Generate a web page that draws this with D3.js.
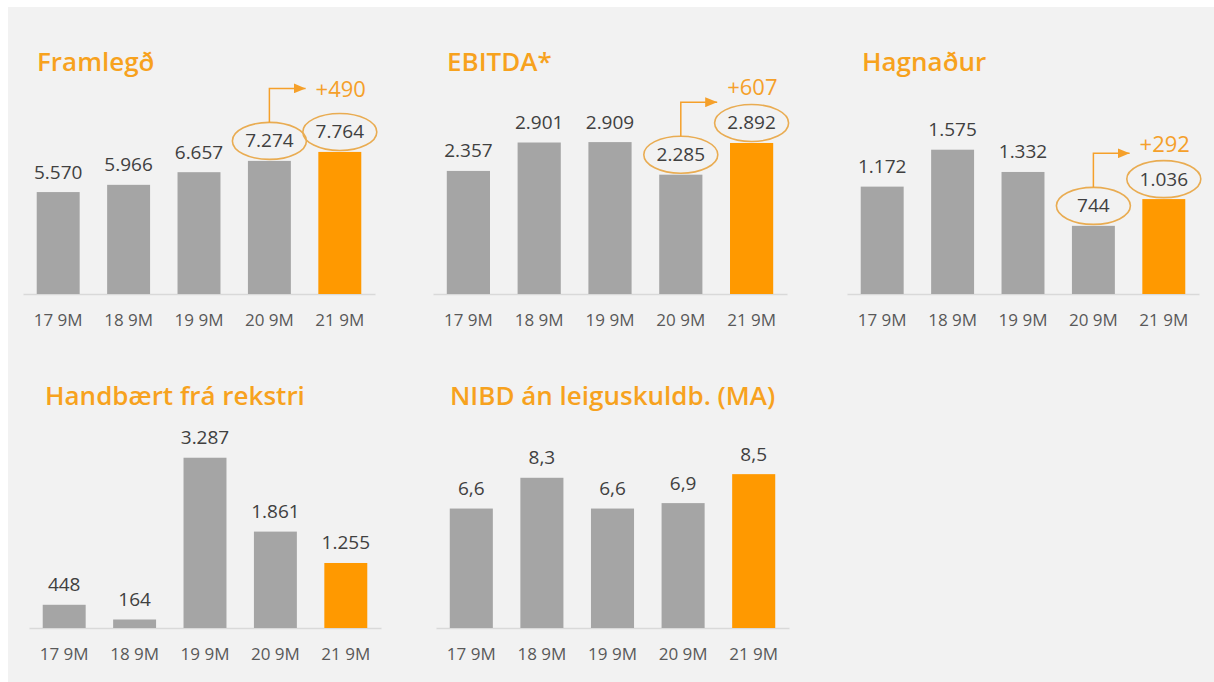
<!DOCTYPE html>
<html><head><meta charset="utf-8">
<script src="https://cdn.jsdelivr.net/npm/d3@7"></script>
<style>
html,body{margin:0;padding:0;background:#fff;}
svg{display:block;}
text{font-family:"Open Sans","Segoe UI",sans-serif;}
</style></head>
<body>
<svg id="chart" width="1214" height="682"></svg>
<script>
// ---- data ----
const categories = ["17 9M", "18 9M", "19 9M", "20 9M", "21 9M"];
const titles = ["Framlegð", "EBITDA*", "Hagnaður", "Handbært frá rekstri", "NIBD án leiguskuldb. (MA)"];
const framlegd = [5570, 5966, 6657, 7274, 7764];
const ebitda = [2357, 2901, 2909, 2285, 2892];
const hagnadur = [1172, 1575, 1332, 744, 1036];
const handbaert = [448, 164, 3287, 1861, 1255];
const nibd = [6.6, 8.3, 6.6, 6.9, 8.5];

const isLocale = d3.formatLocale({decimal: ",", thousands: ".", grouping: [3], currency: ["", ""]});
const fmtInt = isLocale.format(",d");
const fmtDec = isLocale.format(",.1f");
const fmtDelta = isLocale.format("+,d");

// ---- layout / style ----
const panels = [
  {title: titles[0], values: framlegd, fmt: fmtInt, x0: 23, x1: 375, axisY: 294, yMax: 10930, tx: 37, ty: 71, callout: true},
  {title: titles[1], values: ebitda, fmt: fmtInt, x0: 433, x1: 787, axisY: 294, yMax: 3830, tx: 447, ty: 71, callout: true},
  {title: titles[2], values: hagnadur, fmt: fmtInt, x0: 847, x1: 1199, axisY: 294, yMax: 2183, tx: 862, ty: 71, callout: true},
  {title: titles[3], values: handbaert, fmt: fmtInt, x0: 29, x1: 381, axisY: 628, yMax: 3861, tx: 45, ty: 405, callout: false},
  {title: titles[4], values: nibd, fmt: fmtDec, x0: 436, x1: 789, axisY: 628, yMax: 11.05, tx: 450, ty: 405, callout: false}
];
const PLOT_H = 200;
const GRAY = "#a5a5a5", ORANGE = "#ff9900", TITLE = "#f7a21e", RING = "#e9ac52", ARROW = "#f5a02a";

const svg = d3.select("#chart");
svg.append("rect").attr("x", 8).attr("y", 7).attr("width", 1214 - 8).attr("height", 682 - 7).attr("fill", "#f2f2f2");

const defs = svg.append("defs");
defs.append("marker").attr("id", "ah").attr("viewBox", "0 0 12 10").attr("refX", 12).attr("refY", 5)
  .attr("markerWidth", 12).attr("markerHeight", 10).attr("markerUnits", "userSpaceOnUse").attr("orient", "auto")
  .append("path").attr("d", "M0,0L12,5L0,10Z").attr("fill", ARROW);

panels.forEach(p => {
  const g = svg.append("g");
  const x = d3.scaleBand().domain(categories).range([p.x0, p.x1]).paddingInner(0.39).paddingOuter(0.195);
  const y = d3.scaleLinear().domain([0, p.yMax]).range([p.axisY, p.axisY - PLOT_H]);
  const data = categories.map((c, i) => ({c, v: p.values[i], i}));
  const last = data.length - 1;

  g.append("text").attr("x", p.tx).attr("y", p.ty).text(p.title)
    .attr("fill", TITLE).attr("font-size", 26).attr("font-weight", 600);

  // axis
  const ax = g.append("g").attr("transform", `translate(0,${p.axisY})`)
    .call(d3.axisBottom(x).tickSize(0).tickPadding(20));
  ax.select(".domain").attr("stroke", "#d9d9d9").attr("stroke-width", 1.5);
  ax.selectAll("text").attr("font-size", 17).attr("fill", "#595959")
    .attr("font-family", '"Open Sans",sans-serif');

  g.selectAll("rect.bar").data(data).join("rect").attr("class", "bar")
    .attr("x", d => x(d.c)).attr("width", x.bandwidth())
    .attr("y", d => y(d.v)).attr("height", d => y(0) - y(d.v))
    .attr("fill", d => d.i === last ? ORANGE : GRAY);

  g.selectAll("text.val").data(data).join("text").attr("class", "val")
    .attr("x", d => x(d.c) + x.bandwidth() / 2)
    .attr("y", d => y(d.v) - 13.5)
    .attr("text-anchor", "middle").attr("font-size", 19).attr("fill", "#404040")
    .text(d => p.fmt(d.v));

  if (p.callout) {
    const ring = data.slice(last - 1);
    const cy = d => y(d.v) - 20;
    g.selectAll("ellipse").data(ring).join("ellipse")
      .attr("cx", d => x(d.c) + x.bandwidth() / 2).attr("cy", cy)
      .attr("rx", 37).attr("ry", 18.5)
      .attr("fill", "none").attr("stroke", RING).attr("stroke-width", 1.6);
    const a = ring[0], b = ring[1];
    const ax0 = x(a.c) + x.bandwidth() / 2;
    const aTop = cy(a) - 18.5;
    const cornerY = aTop - 34;
    const tipX = ax0 + x.step() / 2 + 1;
    g.append("path").attr("d", `M${ax0},${aTop}V${cornerY}H${tipX}`)
      .attr("fill", "none").attr("stroke", ARROW).attr("stroke-width", 1.5)
      .attr("marker-end", "url(#ah)");
    const textY = Math.min(cornerY + 9, cy(b) - 18.5 - 9);
    g.append("text").attr("x", tipX + 10).attr("y", textY)
      .attr("font-size", 22).attr("fill", ARROW).attr("font-weight", 500)
      .text(fmtDelta(b.v - a.v));
  }
});
</script>
</body></html>
